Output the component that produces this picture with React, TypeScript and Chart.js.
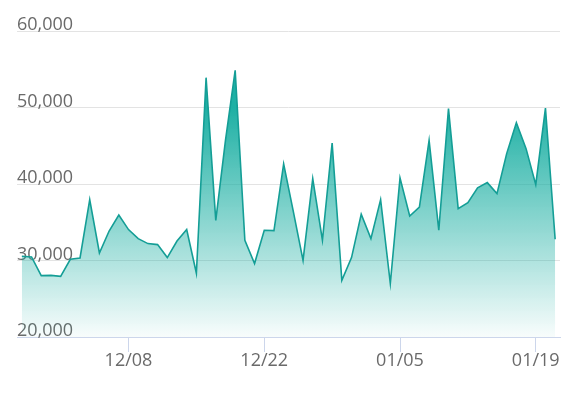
import React, { useEffect, useRef } from 'react';
import { Chart, registerables } from 'chart.js';

Chart.register(...registerables);

const dates = [
  '11/27', '11/28', '11/29', '11/30',
  '12/01', '12/02', '12/03', '12/04', '12/05', '12/06', '12/07', '12/08', '12/09', '12/10',
  '12/11', '12/12', '12/13', '12/14', '12/15', '12/16', '12/17', '12/18', '12/19', '12/20',
  '12/21', '12/22', '12/23', '12/24', '12/25', '12/26', '12/27', '12/28', '12/29', '12/30', '12/31',
  '01/01', '01/02', '01/03', '01/04', '01/05', '01/06', '01/07', '01/08', '01/09', '01/10',
  '01/11', '01/12', '01/13', '01/14', '01/15', '01/16', '01/17', '01/18', '01/19', '01/20', '01/21',
];

const values = [
  30550, 30460, 28020, 28060, 27930, 30160, 30330, 37960, 30980, 33850,
  35950, 34040, 32860, 32210, 32080, 30380, 32550, 34040, 28330, 53900,
  35250, 45700, 54860, 32640, 29600, 33950, 33900, 42640, 36400, 30020,
  40700, 32640, 45360, 27410, 30380, 36040, 32860, 37960, 26980, 40800,
  35810, 36990, 45710, 33950, 49850, 36780, 37570, 39500, 40180, 38740,
  43970, 48020, 44620, 39920, 49930, 32770,
];

const shownTicks = ['12/08', '12/22', '01/05', '01/19'];

const yMin = 20000;
const yMax = 60000;
const yStep = 10000;

export default function App() {
  const ref = useRef<HTMLCanvasElement | null>(null);

  useEffect(() => {
    if (!ref.current) return;
    const font = { family: '"Open Sans", sans-serif', size: 18 };
    const chart = new Chart(ref.current, {
      type: 'line',
      data: {
        labels: dates,
        datasets: [
          {
            data: values,
            borderColor: 'rgb(20,158,150)',
            borderWidth: 1.6,
            pointRadius: 0,
            tension: 0,
            fill: 'start',
            backgroundColor: (ctx: any) => {
              const c = ctx.chart;
              const area = c.chartArea;
              if (!area) return 'rgba(30,176,164,0.4)';
              const top = c.scales.y.getPixelForValue(Math.max(...values));
              const g = c.ctx.createLinearGradient(0, top, 0, area.bottom);
              g.addColorStop(0, 'rgba(30,176,164,1)');
              g.addColorStop(0.14, 'rgba(30,176,164,1)');
              g.addColorStop(1, 'rgba(30,176,164,0.03)');
              return g;
            },
          },
        ],
      },
      options: {
        responsive: false,
        animation: false,
        layout: { padding: { left: 17, right: 27, top: 31, bottom: 0 } },
        plugins: { legend: { display: false }, tooltip: { enabled: false } },
        scales: {
          x: {
            type: 'category',
            offset: true,
            grid: {
              offset: false,
              drawOnChartArea: false,
              drawTicks: true,
              tickLength: 15,
              color: (ctx: any) =>
                shownTicks.includes(dates[ctx.index]) ? '#ccd6eb' : 'rgba(0,0,0,0)',
            },
            border: { display: true, color: '#ccd6eb', width: 1 },
            ticks: {
              autoSkip: false,
              maxRotation: 0,
              padding: -2,
              font,
              color: '#6a6a6a',
              callback: (_v: any, i: number) => (shownTicks.includes(dates[i]) ? dates[i] : ''),
            },
            afterFit: (s: any) => {
              s.height = 56;
            },
          },
          y: {
            min: yMin,
            max: yMax,
            grid: {
              drawTicks: false,
              color: (ctx: any) => (ctx.tick && ctx.tick.value === yMin ? 'rgba(0,0,0,0)' : '#e3e3e3'),
            },
            border: { display: false },
            ticks: {
              stepSize: yStep,
              mirror: true,
              padding: 0,
              labelOffset: -6,
              font,
              color: '#6a6a6a',
              callback: (v: any) => Number(v).toLocaleString('en-US'),
            },
            afterFit: (s: any) => {
              s.width = 0;
            },
          },
        },
      },
    } as any);
    return () => chart.destroy();
  }, []);

  return (
    <div style={{ position: 'fixed', left: 0, top: 0, width: 587, height: 393, background: '#fff' }}>
      <canvas ref={ref} width={587} height={393} style={{ display: 'block' }} />
    </div>
  );
}
